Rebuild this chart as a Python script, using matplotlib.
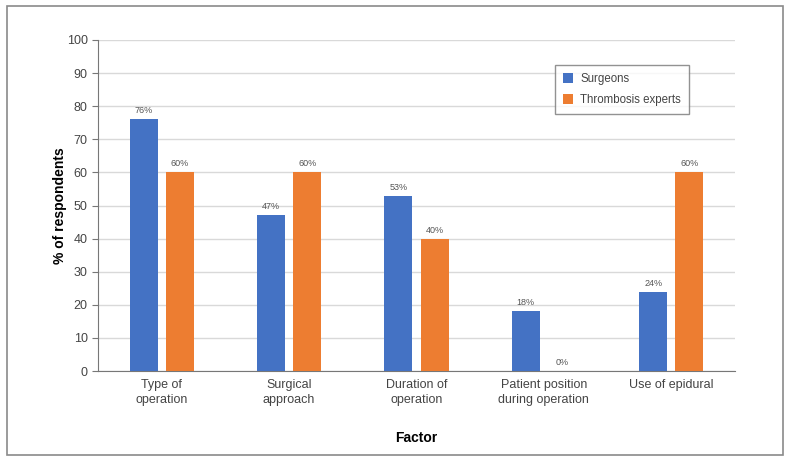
import matplotlib
matplotlib.use("Agg")
import matplotlib.pyplot as plt
from matplotlib.patches import Rectangle
import numpy as np

categories = ["Type of\noperation", "Surgical\napproach", "Duration of\noperation",
              "Patient position\nduring operation", "Use of epidural"]
surgeons = [76, 47, 53, 18, 24]
experts = [60, 60, 40, 0, 60]
series_names = ["Surgeons", "Thrombosis experts"]
colors = ["#4472C4", "#ED7D31"]

plt.rcParams['font.family'] = ['Liberation Sans', 'DejaVu Sans']

fig = plt.figure(figsize=(7.9, 4.63), dpi=100)
ax = fig.add_axes([98/790, 1-371/463, (735-98)/790, (371-40)/463])

fig.patches.append(Rectangle((7/790, 1-455/463), (783-7)/790, (455-6)/463,
                             transform=fig.transFigure, fill=False,
                             edgecolor="#8a8a8a", linewidth=1.2))

x = np.arange(len(categories))
w = 0.22
off = 0.142
b1 = ax.bar(x - off, surgeons, w, color=colors[0], label=series_names[0], zorder=3)
b2 = ax.bar(x + off, experts, w, color=colors[1], label=series_names[1], zorder=3)

for bars, vals in ((b1, surgeons), (b2, experts)):
    for r, v in zip(bars, vals):
        ax.text(r.get_x() + r.get_width()/2, v + 1.2, f"{v}%", ha="center", va="bottom",
                fontsize=6.5, color="#555555")

ax.set_xlim(-0.5, len(categories) - 0.5)
ax.set_ylim(0, 100)
ax.set_yticks(np.arange(0, 101, 10))
ax.set_xticks(x)
ax.set_xticklabels(categories, fontsize=9, color="#444444", linespacing=1.25)
ax.tick_params(axis='y', labelsize=9, labelcolor="#444444", color="#777777", length=4)
ax.tick_params(axis='x', length=0, pad=6)
ax.grid(axis='y', color="#d9d9d9", linewidth=1, zorder=0)
for s in ("top", "right"):
    ax.spines[s].set_visible(False)
ax.spines["left"].set_color("#777777")
ax.spines["bottom"].set_color("#777777")

ax.set_ylabel("% of respondents", fontsize=10, fontweight="bold", labelpad=0)
ax.set_xlabel("Factor", fontsize=10, fontweight="bold", labelpad=18)

leg = ax.legend(loc="upper left", bbox_to_anchor=((555-98)/637, (371-65)/331),
                borderaxespad=0, fontsize=8.3, frameon=True, fancybox=False,
                edgecolor="#777777", handlelength=0.9, handleheight=0.9,
                handletextpad=0.6, borderpad=0.7, labelspacing=0.75)
for t in leg.get_texts():
    t.set_color("#444444")

fig.savefig("out.png", dpi=100)
